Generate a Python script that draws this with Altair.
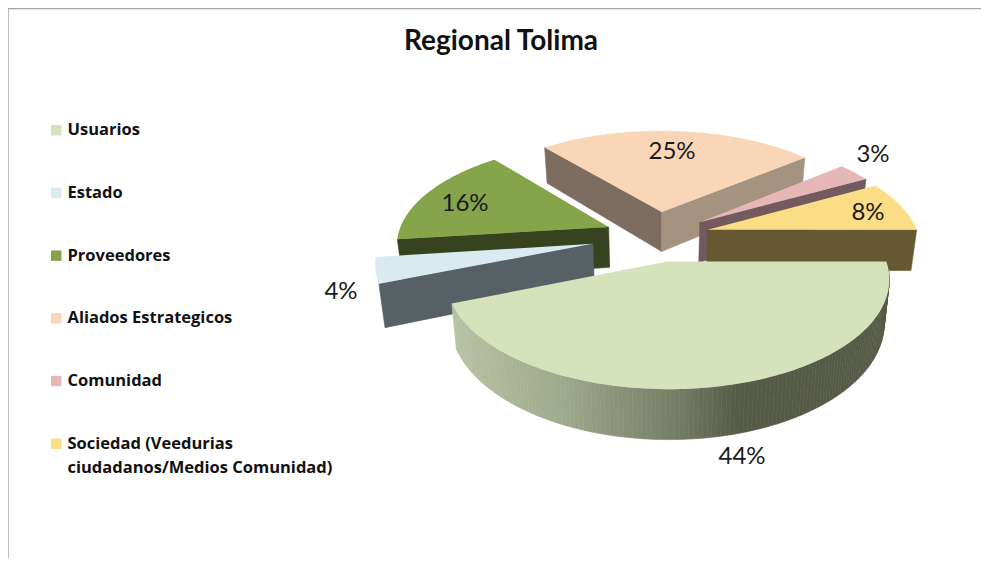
import math
import altair as alt

# ---- data ----
CATEGORIES = ["Usuarios", "Estado", "Proveedores", "Aliados Estrategicos", "Comunidad",
              "Sociedad (Veedurias ciudadanos/Medios Comunidad)"]
SHARES = [44, 4, 16, 25, 3, 8]
TOP_COLORS = ["#D6E2BC", "#DAEAF1", "#86A44A", "#FAD6B8", "#E5B7B7", "#FBDD85"]
LABELS = ["44%", "4%", "16%", "25%", "3%", "8%"]
TITLE = ["Regional Tolima"]

# ---- styling / layout of the 3-D look ----
WALL_A = ["#555A46", "#566065", "#37431E", "#7D6D60", "#735A5E", "#675834"]   # wall at slice start
WALL_B = ["#555A46", "#566065", "#37431E", "#A59380", "#735A5E", "#675834"]   # wall at slice end
EXPLODE = [0.25, 0.31, 0.25, 0.25, 0.25, 0.25]
DRAW_ORDER = [3, 4, 5, 2, 1, 0]
LABEL_X = [742, 341, 465, 672, 873, 868]
LABEL_Y = [457, 292, 204, 152, 155, 213]
OX, OY = 8, 8                          # page margin
CX, CY, R, KR, PERSP, DEPTH, TAPER = 657, 236, 211, 100, 0.15, 41, 0.022


def proj(X, Y, z=0.0):
    f = 1 / (1 - PERSP * Y)
    s = 1 - TAPER * z
    return [CX + R * X * f * s - OX, CY + KR * Y * f + DEPTH * f * z - OY]


def rim(a, ex, ey, z=0.0):
    t = math.radians(a)
    return proj(ex + math.cos(t), ey + math.sin(t), z)


def feature(points, fill):
    return {"type": "Feature",
            "properties": {"fill": fill},
            "geometry": {"type": "Polygon", "coordinates": [points + [points[0]]]}}


def lerp_color(stops, x):
    for (x0, c0), (x1, c1) in zip(stops, stops[1:]):
        if x <= x1:
            u = max(0.0, (x - x0) / (x1 - x0))
            return "#%02X%02X%02X" % tuple(round(a + (b - a) * u) for a, b in zip(c0, c1))
    return "#%02X%02X%02X" % stops[-1][1]


SIDE_STOPS = [(442, (186, 196, 164)), (560, (160, 170, 140)), (680, (116, 124, 100)), (742, (85, 90, 70))]

scale = alt.Scale(domain=CATEGORIES, range=TOP_COLORS)
legend = alt.Legend(
    title=None, orient="none", legendX=40, legendY=114, symbolType="square", symbolSize=110,
    symbolStrokeWidth=0, labelFont="Open Sans", labelFontWeight="bold", labelFontSize=16.5,
    labelColor="#111111", labelLimit=400, labelOffset=3, rowPadding=45.7,
    labelExpr="datum.label == 'Sociedad (Veedurias ciudadanos/Medios Comunidad)' ? "
              "['Sociedad (Veedurias', 'ciudadanos/Medios Comunidad)'] : datum.label",
)
PROJECTION = dict(type="identity", scale=1, translate=[0, 0])

layers = []
total = sum(SHARES)
starts = [sum(SHARES[:i]) / total * 360 for i in range(len(SHARES))]
for i in DRAW_ORDER:
    a0 = starts[i]
    a1 = a0 + SHARES[i] / total * 360
    mid = math.radians((a0 + a1) / 2)
    ex, ey = EXPLODE[i] * math.cos(mid), EXPLODE[i] * math.sin(mid)
    arc = [a0 + (a1 - a0) * k / 150 for k in range(151)]

    walls = []
    if math.sin(math.radians(a0 - 90)) > 0:
        walls.append(feature([proj(ex, ey), rim(a0, ex, ey), rim(a0, ex, ey, 1), proj(ex, ey, 1)], WALL_A[i]))
    if math.sin(math.radians(a1 + 90)) > 0:
        walls.append(feature([proj(ex, ey), rim(a1, ex, ey), rim(a1, ex, ey, 1), proj(ex, ey, 1)], WALL_B[i]))
    if i == 0:  # the curved outer wall that shows only on the largest slice
        for b0, b1 in zip(arc, arc[1:]):
            p = rim(b0, ex, ey)
            walls.append(feature([p, rim(b1, ex, ey), rim(b1, ex, ey, 1), rim(b0, ex, ey, 1)],
                                 lerp_color(SIDE_STOPS, p[0] + OX)))
    if walls:
        layers.append(
            alt.Chart(alt.Data(values=walls)).mark_geoshape(strokeWidth=0.6).encode(
                fill=alt.Fill("properties.fill:N", scale=None, legend=None),
                stroke=alt.Stroke("properties.fill:N", scale=None, legend=None),
            ).project(**PROJECTION)
        )
    top = feature([proj(ex, ey)] + [rim(b, ex, ey) for b in arc], TOP_COLORS[i])
    top["properties"]["name"] = CATEGORIES[i]
    layers.append(
        alt.Chart(alt.Data(values=[top])).mark_geoshape(strokeWidth=0).encode(
            color=alt.Color("properties.name:N", scale=scale, legend=legend),
        ).project(**PROJECTION)
    )

label_rows = [{"t": t, "x": x - OX, "y": y - OY} for t, x, y in zip(LABELS, LABEL_X, LABEL_Y)]
labels = alt.Chart(alt.Data(values=label_rows)).mark_text(
    font="Lato", fontSize=24, color="#1A1A1A", align="center", baseline="middle"
).encode(x=alt.X("x:Q", scale=None, axis=None), y=alt.Y("y:Q", scale=None, axis=None), text="t:N")

title = alt.Chart(alt.Data(values=[{"t": TITLE[0]}])).mark_text(
    font="Lato", fontSize=28, fontWeight="bold", color="#111111", align="center", baseline="middle"
).encode(x=alt.value(493), y=alt.value(34), text="t:N")

top_rule = alt.Chart(alt.Data(values=[{"a": 0}])).mark_rule(color="#A6A6A6", strokeWidth=1.5).encode(
    x=alt.value(0), x2=alt.value(973), y=alt.value(0.5))
left_rule = alt.Chart(alt.Data(values=[{"a": 0}])).mark_rule(color="#A6A6A6", strokeWidth=1.5).encode(
    x=alt.value(0), y=alt.value(0), y2=alt.value(550))

chart = alt.layer(top_rule, left_rule, *layers, labels, title).properties(
    width=973, height=550, padding=0, autosize=alt.AutoSizeParams(type="none"),
    background="#FFFFFF",
    config=alt.Config(view=alt.ViewConfig(stroke=None), style={"guide-label": {"lineHeight": 24}}),
)

chart.save("out.html", embed_options={"renderer": "svg", "actions": False})
